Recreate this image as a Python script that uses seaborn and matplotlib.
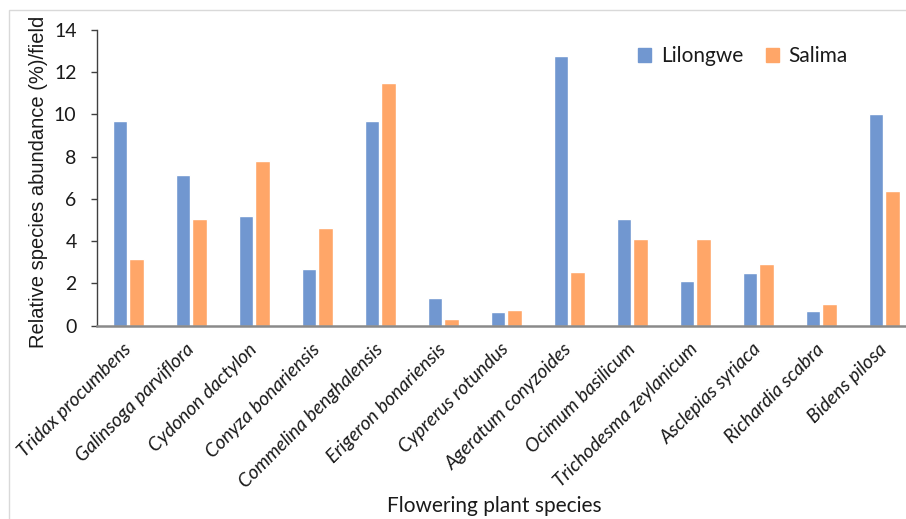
import matplotlib
matplotlib.use("Agg")
import matplotlib.pyplot as plt
import matplotlib.patches as mpatches
import seaborn as sns
import pandas as pd

species = ["Tridax procumbens", "Galinsoga parviflora", "Cydonon dactylon",
           "Conyza bonariensis", "Commelina benghalensis", "Erigeron bonariensis",
           "Cyprerus rotundus", "Ageratum conyzoides", "Ocimum basilicum",
           "Trichodesma zeylanicum", "Asclepias syriaca", "Richardia scabra",
           "Bidens pilosa"]
lilongwe = [9.7, 7.15, 5.2, 2.7, 9.7, 1.3, 0.65, 12.75, 5.04, 2.12, 2.51, 0.68, 10.0]
salima = [3.14, 5.05, 7.78, 4.63, 11.48, 0.32, 0.73, 2.56, 4.12, 4.09, 2.91, 1.03, 6.36]
series = ["Lilongwe", "Salima"]
yticks = [0, 2, 4, 6, 8, 10, 12, 14]

df = pd.DataFrame({
    "species": species * 2,
    "value": lilongwe + salima,
    "site": [series[0]] * len(species) + [series[1]] * len(species),
})

sns.set_style("white")
plt.rcParams["font.family"] = ["Lato", "DejaVu Sans"]

W, H = 906, 519
fig = plt.figure(figsize=(W / 100, H / 100), dpi=100)
ax = fig.add_axes([96.7 / W, 1 - 325.7 / H, 819 / W, 295.7 / H])

blue = "#7197D0"
orange = "#FFA668"
txt = "#1a1a1a"
sns.barplot(data=df, x="species", y="value", hue="site", palette=[blue, orange],
            width=0.52, gap=0.12, saturation=1, errorbar=None, ax=ax)

ax.set_xlim(-0.5, 12.5)
ax.set_ylim(0, 14)
ax.set_yticks(yticks)
ax.set_yticklabels([str(v) for v in yticks], fontsize=14, color=txt)
ax.set_xticks(range(len(species)))
ax.set_xticklabels(species, rotation=45, ha="right", va="center",
                   rotation_mode="anchor", fontsize=13.8, style="italic", color=txt)
ax.tick_params(axis="x", length=0, pad=15)
ax.tick_params(axis="y", length=4.5, width=1, direction="out", color="#404040", pad=10, left=True)

for s in ["top", "right"]:
    ax.spines[s].set_visible(False)
ax.spines["left"].set_color("#404040")
ax.spines["left"].set_linewidth(1.0)
ax.spines["bottom"].set_color("#8a8a8a")
ax.spines["bottom"].set_linewidth(1.8)

ax.set_xlabel("")
ax.set_ylabel("")
fig.text(39 / W, 1 - 182 / H, "Relative species abundance (%)/field", rotation=90,
         ha="center", va="center", fontsize=14.5, family="Liberation Sans", color=txt)
fig.text(494 / W, 1 - 506 / H, "Flowering plant species", ha="center", va="center",
         fontsize=15, color=txt)

handles = [mpatches.Patch(color=blue), mpatches.Patch(color=orange)]
ax.legend(handles, series, loc="center left", bbox_to_anchor=(619 / W, 1 - 56 / H),
          bbox_transform=fig.transFigure, ncol=2, frameon=False, fontsize=15,
          handlelength=0.65, handleheight=0.65, handletextpad=0.45, columnspacing=1.1,
          labelcolor=txt)

frame = mpatches.Rectangle((9 / W, -0.1), 1.2, 1.1 - 10 / H, transform=fig.transFigure,
                           fill=False, edgecolor="#d9d9d9", linewidth=1, clip_on=False)
fig.add_artist(frame)

fig.savefig("out.png", dpi=100, facecolor="white")
